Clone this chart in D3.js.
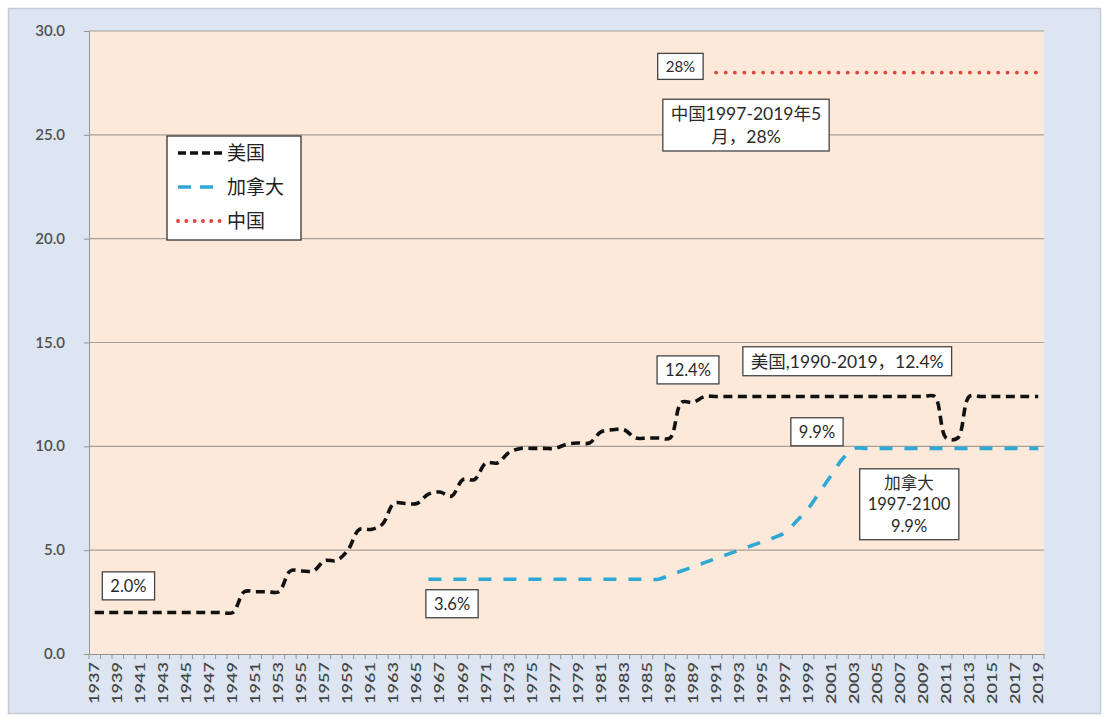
<!DOCTYPE html>
<html>
<head>
<meta charset="utf-8">
<script src="https://cdn.jsdelivr.net/npm/d3@7"></script>
<style>
body{margin:0;background:#fff;}
text{font-family:Lato,"Noto Sans CJK SC",sans-serif;}
</style>
</head>
<body>
<svg id="svg" width="1107" height="718"></svg>
<script>
// categories
var years = d3.range(1937, 2020);
var yTicks = [0, 5, 10, 15, 20, 25, 30];

// US 1937-2019
var usValues = [2.0,2.0,2.0,2.0,2.0,2.0,2.0,2.0,2.0,2.0,2.0,2.0,2.0,
  3.0,3.0,3.0,3.0, 4.0,4.0,4.0, 4.5,4.5, 5.0, 6.0,6.0, 6.25,
  7.25,7.25,7.25, 7.7, 7.8, 7.6, 8.4,8.4, 9.2,9.2, 9.7, 9.9,9.9,9.9,9.9,
  10.1, 10.16,10.16, 10.7, 10.8,10.8, 10.4,10.4,10.4,10.4, 12.12,12.12,
  12.4,12.4,12.4,12.4,12.4,12.4,12.4,12.4,12.4,12.4,12.4,12.4,12.4,12.4,12.4,12.4,12.4,12.4,12.4,12.4,12.4,
  10.4,10.4, 12.4,12.4,12.4,12.4,12.4,12.4,12.4];
// Canada 1966-2019
var caStart = 1966;
var caValues = [3.6,3.6,3.6,3.6,3.6,3.6,3.6,3.6,3.6,3.6,3.6,3.6,3.6,3.6,3.6,3.6,3.6,3.6,3.6,3.6,3.6,
  3.8,4.0,4.2,4.4,4.6,4.8,5.0,5.2,5.4,5.6,5.85,6.4,7.0,7.8,8.6,9.4,
  9.9,9.9,9.9,9.9,9.9,9.9,9.9,9.9,9.9,9.9,9.9,9.9,9.9,9.9,9.9,9.9,9.9];
// China 1991-2019
var cnStart = 1991;
var cnValues = [28,28,28,28,28,28,28,28,28,28,28,28,28,28,28,28,28,28,28,28,28,28,28,28,28,28,28,28,28];

var seriesNames = ["美国", "加拿大", "中国"];

var svg = d3.select("#svg");

// outer chart frame
svg.append("rect").attr("x",8.5).attr("y",8.5).attr("width",1092).attr("height",705)
  .attr("fill","#dce5f1").attr("stroke","#c5ccd6").attr("stroke-width",1.5);

var x = d3.scaleBand().domain(years).range([89, 1044]);
var y = d3.scaleLinear().domain([0, 30]).range([654, 31]);
function cx(yr){ return x(yr) + x.bandwidth()/2; }

// plot area
svg.append("rect").attr("x",89).attr("y",y(30)).attr("width",1044-89).attr("height",y(0)-y(30))
  .attr("fill","#fde9da");

// gridlines
svg.append("g").selectAll("line").data(yTicks.filter(function(d){return d>0;})).enter()
  .append("line")
  .attr("x1",89).attr("x2",1044)
  .attr("y1",function(d){return y(d);}).attr("y2",function(d){return y(d);})
  .attr("stroke","#a89f96").attr("stroke-width",1.2);

// y axis
var yAxis = svg.append("g").attr("transform","translate(89,0)")
  .call(d3.axisLeft(y).tickValues(yTicks).tickSize(5).tickFormat(d3.format(".1f")));
yAxis.select(".domain").attr("stroke","#9a948e");
yAxis.selectAll(".tick line").attr("stroke","#9a948e");
yAxis.selectAll("text").attr("font-size",15).attr("font-weight",600).attr("fill","#505050")
  .attr("x",-24).attr("dy","0.3em");

// x axis
var xAxis = svg.append("g").attr("transform","translate(0," + y(0) + ")")
  .call(d3.axisBottom(x).tickSize(0).tickFormat(function(d){ return (d-1937)%2===0 ? d : ""; }));
xAxis.select(".domain").attr("stroke","#9a948e");
xAxis.selectAll("text")
  .attr("transform","rotate(-90)")
  .attr("text-anchor","end")
  .attr("x",-8).attr("y",0).attr("dy","0.35em")
  .attr("font-size",13).attr("font-weight",600).attr("fill","#454545")
  .each(function(){ if(this.textContent) d3.select(this).attr("textLength",42).attr("lengthAdjust","spacingAndGlyphs"); });
// category boundary ticks
svg.append("g").selectAll("line").data(years.concat([2020])).enter().append("line")
  .attr("x1",function(d){ return d===2020 ? 1044 : x(d); })
  .attr("x2",function(d){ return d===2020 ? 1044 : x(d); })
  .attr("y1",y(0)).attr("y2",y(0)+5)
  .attr("stroke","#9a948e").attr("stroke-width",1);

var line = d3.line()
  .x(function(d){ return cx(d.year); })
  .y(function(d){ return y(d.value); })
  .curve(d3.curveCatmullRom.alpha(0.5));

function toPoints(start, vals){
  return vals.map(function(v,i){ return {year:start+i, value:v}; });
}

var styles = [
  {color:"#111111", dash:"9,5.5", width:3.6},
  {color:"#2ea9d6", dash:"13,12", width:3.6},
  {color:"#e0443c", dash:"0.1,9.3", width:3.8, cap:"round"}
];
var seriesData = [toPoints(1937, usValues), toPoints(caStart, caValues), toPoints(cnStart, cnValues)];

seriesData.forEach(function(pts, i){
  svg.append("path").datum(pts)
    .attr("d", line)
    .attr("fill","none")
    .attr("stroke",styles[i].color)
    .attr("stroke-width",styles[i].width)
    .attr("stroke-dasharray",styles[i].dash)
    .attr("stroke-linecap",styles[i].cap || "butt");
});

// annotations, anchored by year index / value
var notes = [
  {yr:1939.93, v:3.27, lines:["2.0%"]},
  {yr:1968.05, v:2.41, lines:["3.6%"]},
  {yr:1988.56, v:13.67, lines:["12.4%"]},
  {yr:2002.4, v:14.08, lines:["美国,1990-2019，12.4%"], fs:17.5},
  {yr:1999.77, v:10.69, lines:["9.9%"]},
  {yr:2007.77, v:7.2, lines:["加拿大","1997-2100","9.9%"]},
  {yr:1987.9, v:28.26, lines:["28%"], fs:15},
  {yr:1993.6, v:25.45, lines:["中国1997-2019年5","月，28%"], fs:17.5}
];
var noteX = d3.scaleLinear().domain([1937, 2019]).range([cx(1937), cx(2019)]);

notes.forEach(function(n){
  var g = svg.append("g").attr("transform","translate(" + noteX(n.yr) + "," + y(n.v) + ")");
  var rect = g.append("rect").attr("fill","#fff").attr("stroke","#444").attr("stroke-width",1.3);
  var fs = n.fs || 16.5;
  var lh = fs*1.3;
  var t = g.append("text").attr("text-anchor","middle").attr("font-size",fs).attr("fill","#2a2a2a");
  n.lines.forEach(function(s, i){
    t.append("tspan").attr("x",0).attr("y",(i - (n.lines.length-1)/2)*lh).attr("dy","0.35em").text(s);
  });
  var b = t.node().getBBox();
  var px = 8, py = 4;
  rect.attr("x",b.x-px).attr("y",b.y-py).attr("width",b.width+2*px).attr("height",b.height+2*py);
});

// legend
var lg = svg.append("g").attr("transform","translate(167,136)");
lg.append("rect").attr("width",134).attr("height",104).attr("fill","#fff").attr("stroke","#333").attr("stroke-width",1.3);
seriesNames.forEach(function(name, i){
  var yy = 17 + i*34;
  lg.append("line").attr("x1",11).attr("x2",55).attr("y1",yy).attr("y2",yy)
    .attr("stroke",styles[i].color).attr("stroke-width",styles[i].width)
    .attr("stroke-dasharray", i===0 ? "8,4" : (i===1 ? "13,9" : "0.1,8.2"))
    .attr("stroke-linecap",styles[i].cap || "butt");
  lg.append("text").attr("x",60).attr("y",yy).attr("dy","0.35em")
    .attr("font-size",19).attr("fill","#222").text(name);
});
</script>
</body>
</html>
